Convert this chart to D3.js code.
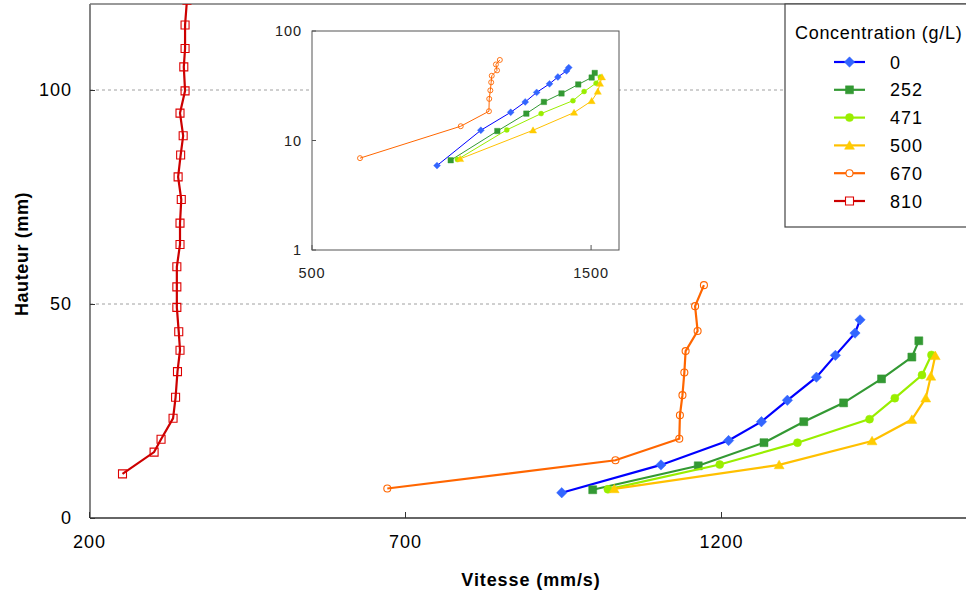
<!DOCTYPE html>
<html><head><meta charset="utf-8">
<script src="https://cdn.jsdelivr.net/npm/d3@7"></script>
<style>body{margin:0;background:#fff}svg{display:block;font-family:Arial,"Liberation Sans",sans-serif}</style>
</head><body><svg id="c" width="966" height="593"></svg>
<script>
// ---- data ----
const concentrations = ["0","252","471","500","670","810"];
const v0   = [948, 1105, 1212, 1264, 1305, 1351, 1381, 1412, 1420];
const h0   = [5.9, 12.4, 18.1, 22.5, 27.5, 32.9, 38.0, 43.2, 46.3];
const v252 = [997, 1164, 1268, 1331, 1394, 1454, 1502, 1513];
const h252 = [6.6, 12.2, 17.6, 22.5, 26.9, 32.5, 37.6, 41.4];
const v471 = [1021, 1198, 1321, 1435, 1475, 1518, 1533];
const h471 = [6.7, 12.5, 17.6, 23.1, 28.0, 33.4, 38.1];
const v500 = [1031, 1292, 1439, 1502, 1524, 1532, 1539];
const h500 = [6.8, 12.4, 18.0, 23.0, 28.0, 33.1, 37.9];
const v670 = [672, 1033, 1134, 1135, 1139, 1142, 1144, 1163, 1159, 1173];
const h670 = [6.9, 13.5, 18.5, 24.0, 28.7, 34.0, 39.0, 43.7, 49.5, 54.4];
const v810 = [253, 303, 314, 333, 337, 340, 344, 342, 339, 339, 339, 344, 344, 346, 341, 345, 349, 344, 352, 350, 352, 352, 355];
const h810 = [10.3, 15.4, 18.4, 23.3, 28.2, 34.2, 39.2, 43.5, 49.2, 54.0, 58.7, 63.9, 68.9, 74.4, 79.7, 84.8, 89.3, 94.6, 99.8, 105.4, 109.7, 115.2, 121];
const xTicks = [200, 700, 1200];
const yTicks = [0, 50, 100];
const insetXTicks = [500, 1500];
const insetYTicks = [1, 10, 100];

const series = [
  {name:"0",   v:v0,   h:h0,   line:"#0000ff", mark:"#3366ff", sym:"diamond", fill:true},
  {name:"252", v:v252, h:h252, line:"#339933", mark:"#339933", sym:"square",  fill:true},
  {name:"471", v:v471, h:h471, line:"#99ee00", mark:"#99ee00", sym:"circle",  fill:true},
  {name:"500", v:v500, h:h500, line:"#ffc000", mark:"#ffcc00", sym:"triangle",fill:true},
  {name:"670", v:v670, h:h670, line:"#ff6600", mark:"#ff6600", sym:"circle",  fill:false},
  {name:"810", v:v810, h:h810, line:"#cc0000", mark:"#dd0000", sym:"square",  fill:false}
];

const svg = d3.select("#c");
const FS = 18, LS = 1;

function symPath(type, s){
  const h = s/2;
  if(type==="diamond") return `M0,${-h*1.15}L${h*1.15},0L0,${h*1.15}L${-h*1.15},0Z`;
  if(type==="square") return `M${-h},${-h}H${h}V${h}H${-h}Z`;
  if(type==="triangle") return `M0,${-h*1.05}L${h*1.1},${h*0.85}L${-h*1.1},${h*0.85}Z`;
  return d3.arc()({innerRadius:0,outerRadius:h,startAngle:0,endAngle:2*Math.PI});
}
const mainSize = {diamond:9, square:8, circle:8, triangle:9};
const insetSize = {diamond:6, square:5.5, circle:5, triangle:6.5};

// ---- main chart ----
const x = d3.scaleLinear().domain([200,1600]).range([89, 89+1400*0.632]);
const y = d3.scaleLinear().domain([0,120]).range([518, 518-120*4.28]);
const L = 90, R = 966, T = 4, B = 518;

svg.append("defs").append("clipPath").attr("id","clipMain")
  .append("rect").attr("x",L).attr("y",T).attr("width",R-L).attr("height",B-T);

svg.append("g").selectAll("line").data(yTicks.filter(d=>d>0)).join("line")
  .attr("x1",L).attr("x2",R).attr("y1",d=>y(d)).attr("y2",d=>y(d))
  .attr("stroke","#a0a0a0").attr("stroke-width",1).attr("stroke-dasharray","3,3");

const xAxis = d3.axisBottom(x).tickValues(xTicks).tickSize(-6).tickPadding(17).tickFormat(d3.format("d"));
const gx = svg.append("g").attr("transform",`translate(0,${B})`).call(xAxis);
gx.select(".domain").remove();
gx.selectAll("text").attr("font-size",FS).attr("letter-spacing",LS).attr("fill","#000");
gx.selectAll("line").attr("stroke","#333");
svg.append("line").attr("x1",L).attr("x2",R).attr("y1",B).attr("y2",B).attr("stroke","#333").attr("stroke-width",1.5);

const yAxis = d3.axisLeft(y).tickValues(yTicks).tickSize(-5).tickPadding(18);
const gy = svg.append("g").attr("transform",`translate(${L},0)`).call(yAxis);
gy.select(".domain").remove();
gy.selectAll("text").attr("font-size",FS).attr("letter-spacing",LS).attr("fill","#000");
gy.selectAll("line").attr("stroke","#333");
svg.append("line").attr("x1",L).attr("x2",L).attr("y1",T).attr("y2",B).attr("stroke","#333").attr("stroke-width",1.2);
svg.append("line").attr("x1",L).attr("x2",R).attr("y1",T).attr("y2",T).attr("stroke","#777").attr("stroke-width",1.5);

svg.append("text").attr("x",531).attr("y",586).attr("text-anchor","middle")
  .attr("font-size",FS).attr("letter-spacing",0.9).attr("font-weight","bold").text("Vitesse (mm/s)");
svg.append("text").attr("transform","translate(28,254) rotate(-90)").attr("text-anchor","middle")
  .attr("font-size",FS).attr("letter-spacing",0.6).attr("font-weight","bold").text("Hauteur (mm)");

const gMain = svg.append("g").attr("clip-path","url(#clipMain)");
series.forEach(s=>{
  const pts = s.v.map((v,i)=>[v,s.h[i]]);
  gMain.append("path").datum(pts)
    .attr("d", d3.line().x(d=>x(d[0])).y(d=>y(d[1])))
    .attr("fill","none").attr("stroke",s.line).attr("stroke-width",2.2);
  gMain.selectAll(null).data(pts).join("path")
    .attr("transform",d=>`translate(${x(d[0])},${y(d[1])})`)
    .attr("d",symPath(s.sym, s.fill ? mainSize[s.sym] : (s.sym==="circle"?7:8)))
    .attr("fill",s.fill? s.mark : "none")
    .attr("stroke",s.mark).attr("stroke-width",s.fill?0.5:1.1);
});

// ---- inset ----
const ix = d3.scaleLinear().domain([500,1600]).range([312,619]);
const iy = d3.scaleLog().domain([1,100]).range([250,31]);
svg.append("rect").attr("x",312).attr("y",31).attr("width",307).attr("height",219)
  .attr("fill","#fff").attr("stroke","#555").attr("stroke-width",1);
const gi = svg.append("g");
gi.selectAll("text.ix").data(insetXTicks).join("text").attr("class","ix")
  .attr("x",d=>ix(d)).attr("y",278).attr("text-anchor","middle")
  .attr("font-size",14.5).attr("letter-spacing",0.9).attr("fill","#222").text(d=>d);
gi.selectAll("text.iy").data(insetYTicks).join("text").attr("class","iy")
  .attr("x",302).attr("y",d=>iy(d)+5).attr("text-anchor","end")
  .attr("font-size",14.5).attr("letter-spacing",0.9).attr("fill","#222").text(d=>d);
gi.selectAll("line.ixt").data(insetXTicks).join("line").attr("class","ixt")
  .attr("x1",d=>ix(d)).attr("x2",d=>ix(d)).attr("y1",250).attr("y2",245).attr("stroke","#555");
gi.selectAll("line.iyt").data(insetYTicks).join("line").attr("class","iyt")
  .attr("x1",312).attr("x2",316).attr("y1",d=>iy(d)).attr("y2",d=>iy(d)).attr("stroke","#555");

svg.append("defs").append("clipPath").attr("id","clipInset")
  .append("rect").attr("x",312).attr("y",31).attr("width",307).attr("height",219);
const gIn = svg.append("g").attr("clip-path","url(#clipInset)");
series.forEach(s=>{
  const pts = s.v.map((v,i)=>[v,s.h[i]]).filter(d=>d[0]>=500);
  if(!pts.length) return;
  gIn.append("path").datum(pts)
    .attr("d", d3.line().x(d=>ix(d[0])).y(d=>iy(d[1])))
    .attr("fill","none").attr("stroke",s.line).attr("stroke-width",1);
  gIn.selectAll(null).data(pts).join("path")
    .attr("transform",d=>`translate(${ix(d[0])},${iy(d[1])})`)
    .attr("d",symPath(s.sym, s.fill ? insetSize[s.sym] : 5))
    .attr("fill",s.fill? s.mark : "none")
    .attr("stroke",s.mark).attr("stroke-width",s.fill?0.4:0.9);
});

// ---- legend ----
const lg = svg.append("g");
lg.append("rect").attr("x",785).attr("y",4).attr("width",200).attr("height",223)
  .attr("fill","#fff").attr("stroke","#444").attr("stroke-width",1.2);
lg.append("text").attr("x",795).attr("y",39).attr("font-size",FS).attr("letter-spacing",0.7).text("Concentration (g/L)");
series.forEach((s,i)=>{
  const cy = 62 + i*27.8;
  lg.append("line").attr("x1",834).attr("x2",865).attr("y1",cy).attr("y2",cy)
    .attr("stroke",s.line).attr("stroke-width",2.2);
  lg.append("path").attr("transform",`translate(849.5,${cy})`)
    .attr("d",symPath(s.sym, s.fill ? mainSize[s.sym] : (s.sym==="circle"?7:8)))
    .attr("fill",s.fill? s.mark : "#fff")
    .attr("stroke",s.mark).attr("stroke-width",s.fill?0.5:1.1);
  lg.append("text").attr("x",890).attr("y",cy+6.5).attr("font-size",FS).attr("letter-spacing",LS).text(concentrations[i]);
});
</script></body></html>
